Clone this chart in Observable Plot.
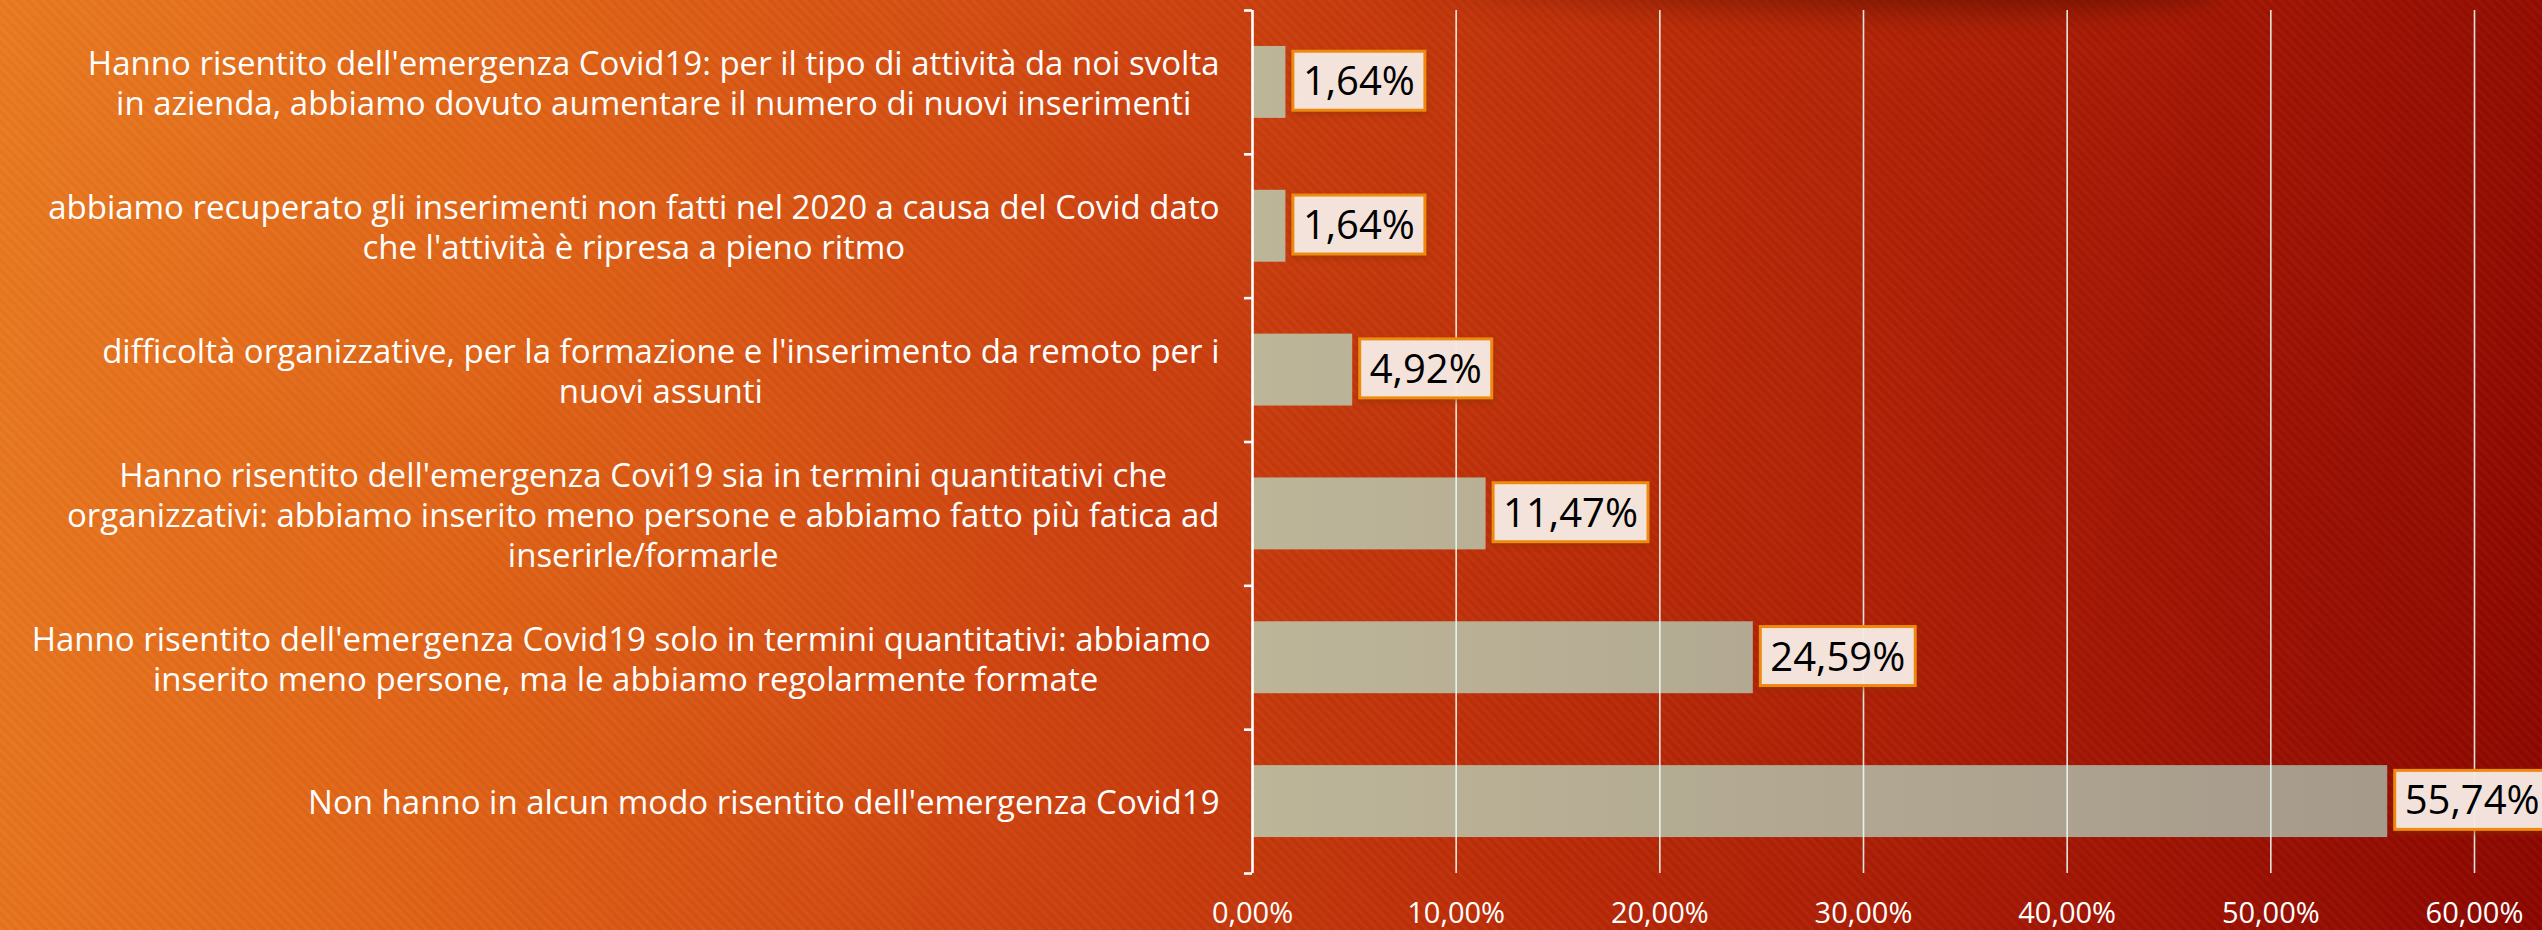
<!DOCTYPE html>
<html>
<head>
<meta charset="utf-8">
<script src="https://cdn.jsdelivr.net/npm/d3@7"></script>
<script src="https://cdn.jsdelivr.net/npm/@observablehq/plot@0.6"></script>
<style>
html, body { margin: 0; padding: 0; width: 2542px; height: 930px; overflow: hidden; }
#stage { position: relative; width: 2542px; height: 930px; overflow: hidden;
  background: linear-gradient(100deg, #ea7a21 0%, #df6216 22%, #cf4410 42%, #bb2c08 62%, #a31604 82%, #8c0700 100%); }
#stripes { position: absolute; inset: 0;
  background: repeating-linear-gradient(45deg, rgba(255,255,255,0.025) 0px, rgba(255,255,255,0.025) 3px, rgba(0,0,0,0.018) 3px, rgba(0,0,0,0.018) 7px); }
#shade { position: absolute; left: 1400px; top: -50px; width: 820px; height: 76px; border-radius: 50%;
  background: radial-gradient(ellipse at 78% 40%, rgba(95,15,0,0.85) 0%, rgba(110,20,0,0.5) 45%, rgba(120,25,0,0) 75%);
  filter: blur(12px); }
#chart { position: absolute; left: 0; top: 0; }
</style>
</head>
<body>
<div id="stage">
  <div id="stripes"></div>
  <div id="shade"></div>
  <div id="chart"></div>
</div>
<script>
// ---- data ----
const categories = [
  "Hanno risentito dell'emergenza Covid19: per il tipo di attività da noi svolta\nin azienda, abbiamo dovuto aumentare il numero di nuovi inserimenti",
  "abbiamo recuperato gli inserimenti non fatti nel 2020 a causa del Covid dato\nche l'attività è ripresa a pieno ritmo",
  "difficoltà organizzative, per la formazione e l'inserimento da remoto per i\nnuovi assunti",
  "Hanno risentito dell'emergenza Covi19 sia in termini quantitativi che\norganizzativi: abbiamo inserito meno persone e abbiamo fatto più fatica ad\ninserirle/formarle",
  "Hanno risentito dell'emergenza Covid19 solo in termini quantitativi: abbiamo \ninserito meno persone, ma le abbiamo regolarmente formate",
  "Non hanno in alcun modo risentito dell'emergenza Covid19"
];
const values = [1.64, 1.64, 4.92, 11.47, 24.59, 55.74];
const xTicks = [0, 10, 20, 30, 40, 50, 60];
const bandEdges = [0, 1, 2, 3, 4, 5, 6];

const rows = categories.map((label, i) => ({label, value: values[i], pos: i}));
const fmtAxis = d => d.toFixed(2).replace(".", ",") + "%";
const fmtVal = d => d.toFixed(2).replace(".", ",") + "%";
const FONT = "'Open Sans', 'Noto Sans', sans-serif";

const chart = Plot.plot({
  width: 2542,
  height: 930,
  marginLeft: 1252,
  marginRight: 68,
  marginTop: 10,
  marginBottom: 57,
  style: {background: "transparent", color: "white", fontFamily: FONT, overflow: "visible"},
  x: {domain: [0, 60]},
  y: {domain: [0, 6], reverse: true},
  marks: [
    Plot.rect(rows, {x1: 0, x2: "value", y1: d => d.pos + 0.25, y2: d => d.pos + 0.75, fill: "url(#barGrad)"}),
    Plot.ruleX(xTicks.filter(t => t > 0), {stroke: "#eafcf4", strokeWidth: 1.6, strokeOpacity: 0.9}),
    Plot.ruleX([0], {stroke: "white", strokeWidth: 2.6}),
    Plot.axisY(bandEdges, {tickSize: 8, stroke: "white", strokeWidth: 2.6, tickFormat: () => "", label: null}),
    Plot.axisX(xTicks, {tickSize: 0, tickPadding: 29, fontSize: 29, fill: "white", tickFormat: fmtAxis, label: null}),
    Plot.text(rows, {x: 0, y: d => d.pos + 0.5, text: "label", textAnchor: "end", dx: -33,
      fill: "white", fontSize: 33, lineHeight: 1.22}),
    Plot.text(rows, {x: "value", y: d => d.pos + 0.5, text: d => fmtVal(d.value), textAnchor: "start", dx: 17,
      fill: "black", fontSize: 40})
  ]
});

document.getElementById("chart").append(chart);

const ns = "http://www.w3.org/2000/svg";
const xs = chart.scale("x");
const defs = document.createElementNS(ns, "defs");
const grad = document.createElementNS(ns, "linearGradient");
grad.setAttribute("id", "barGrad");
grad.setAttribute("gradientUnits", "userSpaceOnUse");
grad.setAttribute("x1", xs.apply(0));
grad.setAttribute("x2", xs.apply(60));
grad.setAttribute("y1", 0);
grad.setAttribute("y2", 0);
[["0", "#bdb598"], ["1", "#a4988a"]].forEach(([o, c]) => {
  const s = document.createElementNS(ns, "stop");
  s.setAttribute("offset", o);
  s.setAttribute("stop-color", c);
  grad.append(s);
});
defs.append(grad);
chart.insertBefore(defs, chart.firstChild);

const valueStrings = new Set(values.map(fmtVal));
const allTexts = [...chart.querySelectorAll("text")];

// center the lines of each category label within its own (right-aligned) block
allTexts.forEach(t => {
  const spans = [...t.querySelectorAll("tspan")];
  if (spans.length < 2) return;
  const m = Math.max(...spans.map(s => s.getComputedTextLength()));
  t.setAttribute("text-anchor", "middle");
  t.style.textAnchor = "middle";
  spans.forEach(s => s.setAttribute("x", -m / 2));
});

// boxes behind value labels
allTexts.filter(t => valueStrings.has(t.textContent.trim()) && t.getAttribute("fill") !== "white").forEach(t => {
  const b = t.getBBox();
  const r = document.createElementNS(ns, "rect");
  const h = 59;
  r.setAttribute("x", b.x - 10);
  r.setAttribute("width", b.width + 20);
  r.setAttribute("y", b.y + b.height / 2 - h / 2 + 1);
  r.setAttribute("height", h);
  r.setAttribute("fill", "#f9efe9");
  r.setAttribute("fill-opacity", "0.94");
  r.setAttribute("stroke", "#ee8a10");
  r.setAttribute("stroke-width", "3");
  r.style.filter = "drop-shadow(0px 3px 3px rgba(140,50,0,0.55))";
  if (t.getAttribute("transform")) r.setAttribute("transform", t.getAttribute("transform"));
  t.parentNode.insertBefore(r, t);
});
</script>
</body>
</html>
